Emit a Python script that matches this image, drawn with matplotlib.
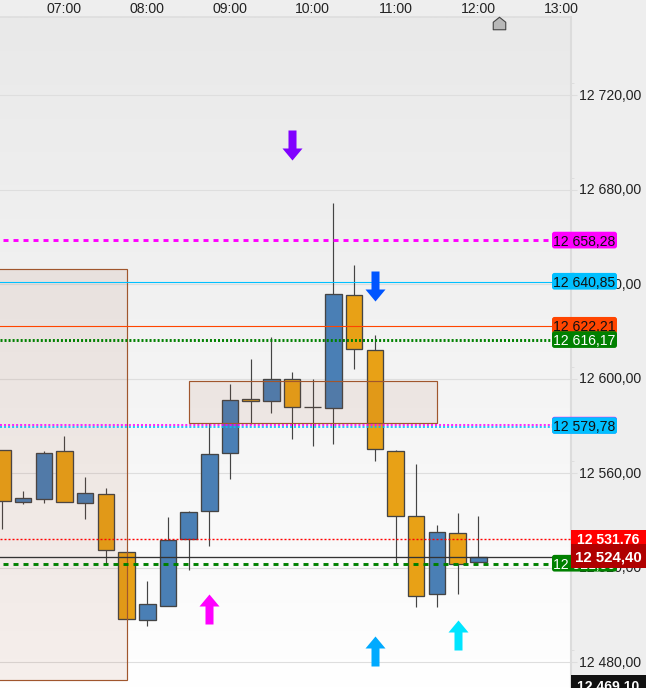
import matplotlib
matplotlib.use("Agg")
import matplotlib.pyplot as plt
import numpy as np
from matplotlib.colors import LinearSegmentedColormap
from matplotlib.patches import Rectangle, FancyBboxPatch
from matplotlib.path import Path
from matplotlib.ticker import FixedLocator, FuncFormatter, NullFormatter
from matplotlib.transforms import IdentityTransform, ScaledTranslation

plt.rcParams['font.family'] = ['Liberation Sans', 'DejaVu Sans']
plt.rcParams['lines.scale_dashes'] = False

# ---------- data ----------
hour_labels = ["07:00", "08:00", "09:00", "10:00", "11:00", "12:00", "13:00"]
hour_positions = [3, 7, 11, 15, 19, 23, 27]
price_ticks = [12480, 12520, 12560, 12600, 12640, 12680, 12720]
minor_ticks = [12485, 12525, 12565, 12605, 12645, 12685, 12725]

opens = [12569.7, 12547.7, 12549.0, 12569.3, 12547.3, 12551.1, 12526.6, 12497.8,
         12503.7, 12532.1, 12543.9, 12568.5, 12591.3, 12590.5, 12599.8, 12588.2,
         12587.5, 12635.3, 12612.1, 12569.3, 12541.8, 12508.8, 12534.6, 12522.3]
closes = [12548.2, 12549.4, 12568.5, 12547.7, 12551.5, 12527.4, 12498.2, 12504.5,
          12531.6, 12543.5, 12568.0, 12590.9, 12590.5, 12599.8, 12587.9, 12588.2,
          12635.8, 12612.5, 12570.2, 12541.8, 12507.9, 12535.0, 12521.5, 12524.4]
highs = [12569.7, 12552.5, 12569.4, 12575.8, 12558.4, 12553.8, 12526.6, 12514.4,
         12541.5, 12544.0, 12581.2, 12597.8, 12608.4, 12617.6, 12602.9, 12599.9,
         12674.4, 12648.2, 12618.5, 12569.9, 12563.9, 12538.1, 12543.2, 12541.9]
lows = [12536.4, 12547.0, 12547.6, 12547.7, 12540.8, 12521.6, 12498.2, 12495.4,
        12503.7, 12519.1, 12529.4, 12557.7, 12580.9, 12585.7, 12574.6, 12571.7,
        12572.5, 12604.3, 12565.3, 12521.6, 12503.5, 12503.5, 12509.0, 12522.3]

level_magenta = 12658.28
level_sky = 12640.85
level_orange = 12622.21
level_green_dot = 12616.17
level_mid = 12579.78
level_red = 12531.76
level_last = 12524.40
level_green_dash = 12521.50
level_bottom = 12469.10

zone_prices = [(12472.4, 12646.3), (12581.4, 12598.9)]
zone_spans = [(-1, 6), (9, 21)]

arrows_down = [(14, 12698.8, '#8000ff'), (18, 12639.3, '#0055ff')]
arrows_up = [(10, 12502.1, '#ff00ff'), (18, 12484.4, '#00aaff'), (22, 12491.1, '#00e5ff')]
home_index, home_price = 24, 12750.6

# ---------- layout ----------
fig = plt.figure(figsize=(6.46, 6.88), dpi=100, facecolor='#eeeeee')
ax = fig.add_axes([0, 0, 571 / 646, 671 / 688])
X0 = 2.4
XLIM = (-X0 / 20.69, (571 - X0) / 20.69)
YLIM = (12469.1, 12753.14)

grad = LinearSegmentedColormap.from_list('bg', ['#e9e9e9', '#f3f3f3', '#ffffff'])
ax.imshow(np.linspace(0, 1, 256).reshape(-1, 1), cmap=grad, aspect='auto',
          extent=(XLIM[0], XLIM[1], YLIM[0], YLIM[1]), origin='upper', zorder=0)
ax.set_xlim(*XLIM)
ax.set_ylim(*YLIM)
ax.set_axisbelow(True)

for s in ('left', 'bottom'):
    ax.spines[s].set_visible(False)
ax.spines['top'].set_color('#dcdcdc')
ax.spines['top'].set_linewidth(1.1)
ax.spines['right'].set_color('#dcdcdc')
ax.spines['right'].set_linewidth(1.5)

ax.yaxis.tick_right()
ax.yaxis.set_major_locator(FixedLocator(price_ticks))
ax.yaxis.set_minor_locator(FixedLocator(minor_ticks))
ax.yaxis.set_minor_formatter(NullFormatter())
ax.yaxis.set_major_formatter(FuncFormatter(
    lambda v, _: f"{int(v) // 1000} {int(v) % 1000:03d},00"))
ax.tick_params(axis='y', which='major', length=4, width=0.8, color='#dedede', pad=1.8,
               labelsize=10.08, labelcolor='#222222')
ax.tick_params(axis='y', which='minor', length=2, width=0.7, color='#dedede')
ax.grid(axis='y', which='major', color='#dedede', lw=0.8)
lift = ScaledTranslation(0, 0.7 / 72, fig.dpi_scale_trans)
for lab in ax.get_yticklabels():
    lab.set_transform(lab.get_transform() + lift)

ax.xaxis.tick_top()
ax.set_xticks(hour_positions)
ax.set_xticklabels(hour_labels)
ax.tick_params(axis='x', length=0, pad=0.9, labelsize=10.08, labelcolor='#222222')

# ---------- candles ----------
idx = np.arange(len(opens))
o, c = np.array(opens), np.array(closes)
colors = ['#4a7fb5' if cl > op else '#e8a116' for op, cl in zip(o, c)]
ax.vlines(idx, lows, highs, color='#444444', lw=0.85, zorder=3)
ax.bar(idx, np.abs(c - o), bottom=np.minimum(o, c), width=0.8, color=colors,
       edgecolor='#444444', linewidth=0.95, zorder=3.2)

# ---------- zones ----------
for (x0, x1), (p0, p1) in zip(zone_spans, zone_prices):
    ax.add_patch(Rectangle((x0, p0), x1 - x0, p1 - p0, facecolor=(0.63, 0.32, 0.18, 0.09),
                           edgecolor='#a0562d', lw=0.85, zorder=3.5))

# ---------- levels ----------
end = 552 / 571
sx = 3 / 571
dash = (0, (3.6, 3.6))
dot = (0, (1.45, 1.45))
nudge = 0.4  # the drawn levels sit a fraction of a pixel above the grid scale
ax.axhline(level_sky, 0, end, color='#00bfff', lw=0.8, zorder=4)
ax.axhline(level_orange, 0, end, color='#ff4500', lw=0.8, zorder=4)
ax.axhline(level_magenta + nudge, sx, end, color='#ff00ff', lw=2.1, ls=dash, zorder=4)
ax.axhline(level_green_dot + nudge, 0, end, color='#008000', lw=2.1, ls=dot, zorder=4)
ax.axhline(level_mid + 0.5, 0, end, color='#ff00ff', lw=1.2, ls=dot, zorder=4)
ax.axhline(level_mid - 0.2, 0, end, color='#00bfff', lw=1.2, ls=dot, zorder=4.1)
ax.axhline(level_red + nudge, 0, 1, color='#ff0000', lw=1.0, ls=(0, (1.44, 1.44)), zorder=4)
ax.axhline(level_last, 0, 1, color='#333333', lw=0.95, zorder=4)
ax.axhline(level_green_dash, sx, end, color='#008000', lw=2.1, ls=dash, zorder=4)

# ---------- arrows ----------
def arrow_path(direction):
    s = direction
    v = [(-0.267, -s), (0.267, -s), (0.267, 0.2 * s), (0.667, 0.2 * s), (0, s),
         (-0.667, 0.2 * s), (-0.267, 0.2 * s), (-0.267, -s)]
    return Path(v, closed=True)

for i, p, col in arrows_down:
    ax.plot([i], [p], marker=arrow_path(-1), ms=21.6, color=col, mew=0, zorder=5)
for i, p, col in arrows_up:
    ax.plot([i], [p + nudge], marker=arrow_path(1), ms=21.6, color=col, mew=0, zorder=5)

home = Path([(-1, -1), (1, -1), (1, 0.2), (0, 1), (-1, 0.2), (-1, -1)], closed=True)
ax.plot([home_index], [home_price], marker=home, ms=9.0, mfc='#b8b8b8', mec='#444444',
        mew=0.8, zorder=5, clip_on=False)

# ---------- price labels ----------
def ypx(price):
    return ax.transData.transform((0, price))[1]

def fmt(v, sep=','):
    s = f"{v:.2f}"
    ip, dp = s.split('.')
    return f"{ip[:-3]} {ip[-3:]}{sep}{dp}"

def box(y, bg, z, h=16.7):
    ax.add_patch(FancyBboxPatch((552, y - h / 2), 65, h, boxstyle='round,pad=0,rounding_size=2.5',
                                transform=IdentityTransform(), fc=bg, ec='none', lw=0,
                                zorder=z, clip_on=False))

def tag(price, bg, fg, z):
    y = ypx(price) + 1.0
    box(y, bg, z)
    ax.text(553.3, y - 0.2, fmt(price), transform=IdentityTransform(), color=fg, fontsize=10.08,
            va='center_baseline', ha='left', zorder=z + 0.01, clip_on=False)

tag(level_magenta, '#ff00ff', '#111111', 6)
tag(level_sky, '#00bfff', '#111111', 6)
tag(level_orange, '#ff4500', '#111111', 6)
tag(level_green_dot, '#008000', '#ffffff', 6.1)
y_mid = ypx(level_mid)
box(y_mid + 1.4, '#ff00ff', 6)
tag(level_mid, '#00bfff', '#111111', 6.05)
tag(level_green_dash, '#008000', '#ffffff', 6)

def strip(price, bg, text, size, below, above, z, dy=0):
    y = ypx(price)
    ax.add_patch(Rectangle((571, y - below), 75, below + above, transform=IdentityTransform(),
                           fc=bg, ec='none', zorder=z, clip_on=False))
    ax.text(608.5, y + dy, text, transform=IdentityTransform(), color='#ffffff', fontsize=size,
            fontweight='bold', ha='center', va='center_baseline', zorder=z + 0.01, clip_on=False)

strip(level_red, '#ff0000', fmt(level_red, '.'), 10.08, 10.4, 10.3, 7, 1.0)
strip(level_last, '#b00000', fmt(level_last), 10.8, 10.4, 13.4, 7.1, 1.0)
strip(level_bottom, '#111111', fmt(level_bottom), 10.08, 0, 13, 7.2, 3.2)

fig.savefig('out.png', dpi=100, facecolor=fig.get_facecolor())
